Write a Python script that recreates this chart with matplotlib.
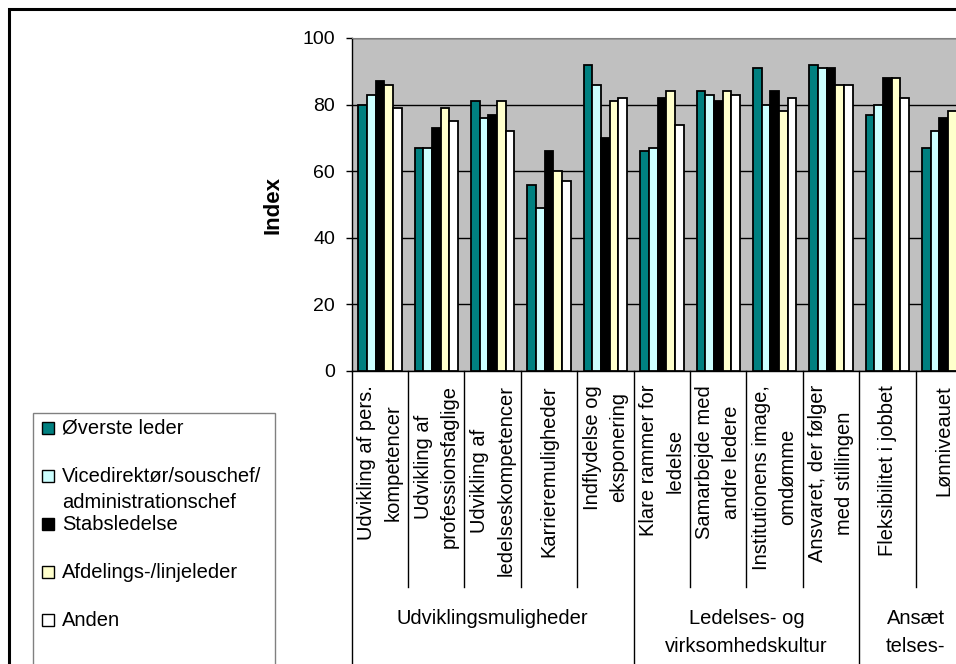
import numpy as np
import matplotlib.pyplot as plt
import matplotlib.transforms as mtransforms
from matplotlib.patches import Rectangle

plt.rcParams['font.family'] = ['Liberation Sans', 'DejaVu Sans']

# Categories (wrapped the way they are printed under the axis)
categories = ["Udvikling af pers.\nkompetencer",
              "Udvikling af\nprofessionsfaglige",
              "Udvikling af\nledelseskompetencer",
              "Karrieremuligheder",
              "Indflydelse og\neksponering",
              "Klare rammer for\nledelse",
              "Samarbejde med\nandre ledere",
              "Institutionens image,\nomdømme",
              "Ansvaret, der følger\nmed stillingen",
              "Fleksibilitet i jobbet",
              "Lønniveauet"]

# Main groups: label and number of categories in each
groups = ["Udviklingsmuligheder", "Ledelses- og\nvirksomhedskultur", "Ansæt\ntelses-"]
group_sizes = [5, 4, 2]

series = ["Øverste leder", "Vicedirektør/souschef/\nadministrationschef",
          "Stabsledelse", "Afdelings-/linjeleder", "Anden"]

overste = [80, 67, 81, 56, 92, 66, 84, 91, 92, 77, 67]
vice = [83, 67, 76, 49, 86, 67, 83, 80, 91, 80, 72]
stabs = [87, 73, 77, 66, 70, 82, 81, 84, 91, 88, 76]
afdeling = [86, 79, 81, 60, 81, 84, 84, 78, 86, 88, 78]
anden = [79, 75, 72, 57, 82, 74, 83, 82, 86, 82, 74]

values = [overste, vice, stabs, afdeling, anden]
colors = ["#008080", "#CCFFFF", "#000000", "#FFFFCC", "#FFFFFF"]

W, H = 956, 664
fig = plt.figure(figsize=(W / 100, H / 100), dpi=100)

def fx(px):
    return px / W

def fy(py):
    return 1 - py / H

# plot area (runs past the right edge of the sheet)
x0, x1, ytop, ybot = 351.7, 972.0, 38.0, 371.0
ax = fig.add_axes([fx(x0), fy(ybot), fx(x1) - fx(x0), fy(ytop) - fy(ybot)])
ax.set_facecolor("#C0C0C0")

n = len(categories)
x = np.arange(n)
bw = 0.154
for i, (vals, col) in enumerate(zip(values, colors)):
    ax.bar(x + (i - 2) * bw, vals, bw, color=col, edgecolor="black",
           linewidth=1.3, zorder=3)

ax.set_xlim(-0.5, n - 0.5)
ax.set_ylim(0, 100)
ax.set_yticks([0, 20, 40, 60, 80, 100])
ax.yaxis.grid(True, color="black", linewidth=1.0, zorder=1)
ax.tick_params(axis="y", direction="out", length=4, width=1, pad=8,
               labelsize=14, colors="black")
ax.spines["right"].set_visible(False)
ax.spines["top"].set_color("#808080")
ax.spines["left"].set_linewidth(1.0)
ax.spines["bottom"].set_linewidth(1.0)

ax.set_ylabel("Index", fontsize=16, fontweight="bold")
ax.yaxis.set_label_coords(-0.110, 0.5)

# category labels, rotated under the axis
ax.set_xticks(x)
ax.set_xticklabels(categories, rotation=90, va="top", ha="center",
                   multialignment="center", linespacing=1.5, fontsize=14.5)
ax.tick_params(axis="x", length=0, pad=10)

# separators between categories and between the main groups
trans = mtransforms.blended_transform_factory(ax.transData, ax.transAxes)
group_edges = np.cumsum([0] + group_sizes) - 0.5
for b in np.arange(n + 1) - 0.5:
    low = -1.0 if b in group_edges else -0.6486
    ax.plot([b, b], [0, low], color="black", linewidth=1.0,
            transform=trans, clip_on=False)

# main group labels
start = 0
for g, size in zip(groups, group_sizes):
    centre = start + (size - 1) / 2
    ax.text(centre, -0.715, g, transform=trans, ha="center", va="top",
            multialignment="center", linespacing=1.6, fontsize=14.5)
    start += size

# outer frame of the chart
fig.patches.append(Rectangle((fx(9), fy(1000)), fx(1200), fy(9) - fy(1000),
                             transform=fig.transFigure, fill=False,
                             edgecolor="black", linewidth=2.2))

# legend box with square keys
fig.patches.append(Rectangle((fx(33), fy(700)), fx(275) - fx(33), fy(413) - fy(700),
                             transform=fig.transFigure, fill=False,
                             edgecolor="#808080", linewidth=1.0))
for i, (lab, col) in enumerate(zip(series, colors)):
    yc = 428 + 48 * i
    fig.patches.append(Rectangle((fx(42), fy(yc + 6)), fx(12), fy(yc - 6) - fy(yc + 6),
                                 transform=fig.transFigure, facecolor=col,
                                 edgecolor="black", linewidth=1.0))
    for k, line in enumerate(lab.split("\n")):
        fig.text(fx(62), fy(yc + 26 * k), line, ha="left", va="center", fontsize=14.5)

fig.savefig("out.png", dpi=100)
